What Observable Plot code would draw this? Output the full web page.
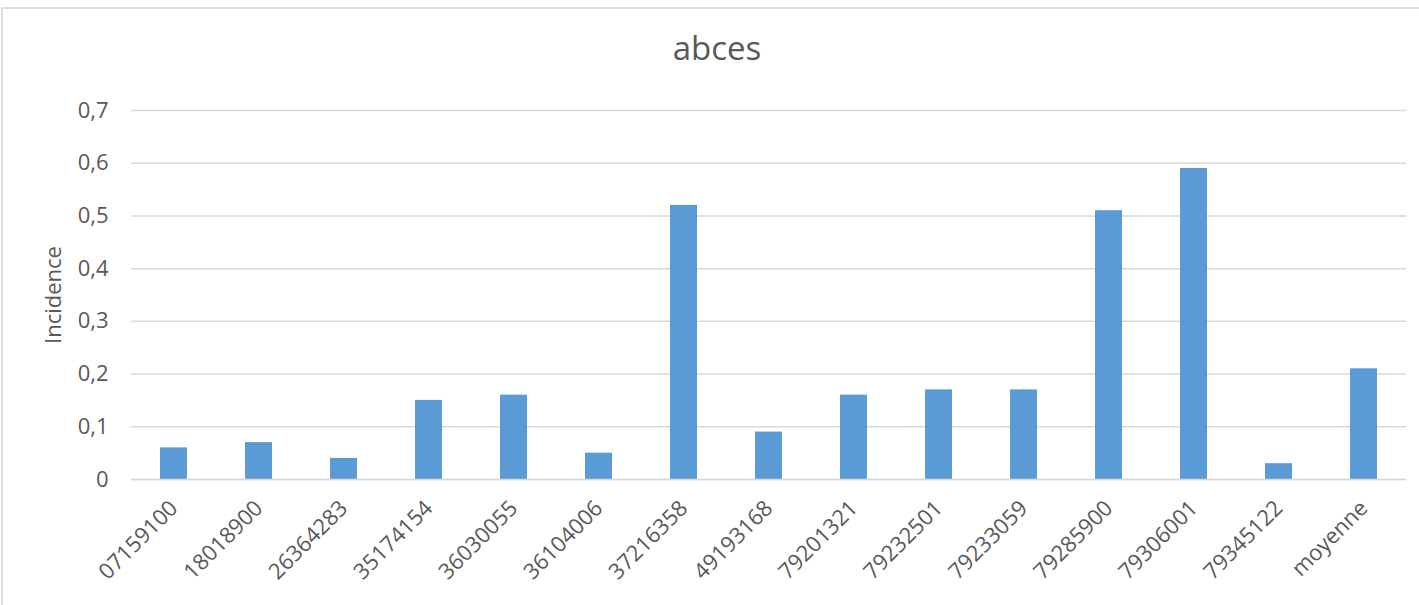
<!DOCTYPE html>
<html>
<head>
<meta charset="utf-8">
<script src="https://cdn.jsdelivr.net/npm/d3@7"></script>
<script src="https://cdn.jsdelivr.net/npm/@observablehq/plot@0.6"></script>
<style>
  html, body { margin: 0; padding: 0; background: #fff; }
  #wrap { position: relative; width: 1419px; height: 605px; overflow: hidden; font-family: "Open Sans", sans-serif; }
  #frame { position: absolute; left: 1px; top: 7px; width: 1500px; height: 700px; border: 2px solid #dedede; box-sizing: border-box; }
  #title { position: absolute; left: 0; width: 1434px; top: 28px; text-align: center; font-size: 33px; color: #595959; line-height: 40px; }
  #chart { position: absolute; left: 0; top: 0; }
</style>
</head>
<body>
<div id="wrap">
  <div id="frame"></div>
  <div id="chart"></div>
  <div id="title">abces</div>
</div>
<script>
const categories = ["07159100","18018900","26364283","35174154","36030055","36104006","37216358","49193168","79201321","79232501","79233059","79285900","79306001","79345122","moyenne"];
const incidence = [0.06, 0.07, 0.04, 0.15, 0.16, 0.05, 0.52, 0.09, 0.16, 0.17, 0.17, 0.51, 0.59, 0.03, 0.21];
const yTicks = [0, 0.1, 0.2, 0.3, 0.4, 0.5, 0.6, 0.7];

const data = categories.map((c, i) => ({cat: c, value: incidence[i]}));
const fmt = d => d === 0 ? "0" : String(+d.toFixed(1)).replace(".", ",");

const chart = Plot.plot({
  width: 1419,
  height: 605,
  marginLeft: 131,
  marginRight: 13,
  marginTop: 110,
  marginBottom: 126,
  style: {fontFamily: "Open Sans, sans-serif", fontSize: "22px", color: "#595959", background: "transparent", overflow: "visible"},
  x: {domain: categories, paddingInner: 0.68, paddingOuter: 0.34, label: null},
  y: {domain: [0, 0.7], label: "Incidence"},
  marks: [
    Plot.gridY(yTicks, {stroke: "#d9d9d9", strokeOpacity: 1, strokeWidth: 1.5}),
    Plot.barY(data, {x: "cat", y: "value", fill: "#5b9bd5"}),
    Plot.axisY({ticks: yTicks, tickFormat: fmt, tickSize: 0, tickPadding: 23, label: "Incidence", labelAnchor: "center", labelArrow: "none", labelOffset: 86, fontSize: 22, color: "#595959"}),
    Plot.axisX({tickRotate: -45, tickSize: 0, tickPadding: 25, label: null, fontSize: 22}),
    Plot.ruleY([0], {stroke: "#d9d9d9", strokeWidth: 1.5})
  ]
});
chart.querySelectorAll("text").forEach(t => t.setAttribute("fill", "#595959"));
document.getElementById("chart").appendChild(chart);
</script>
</body>
</html>
